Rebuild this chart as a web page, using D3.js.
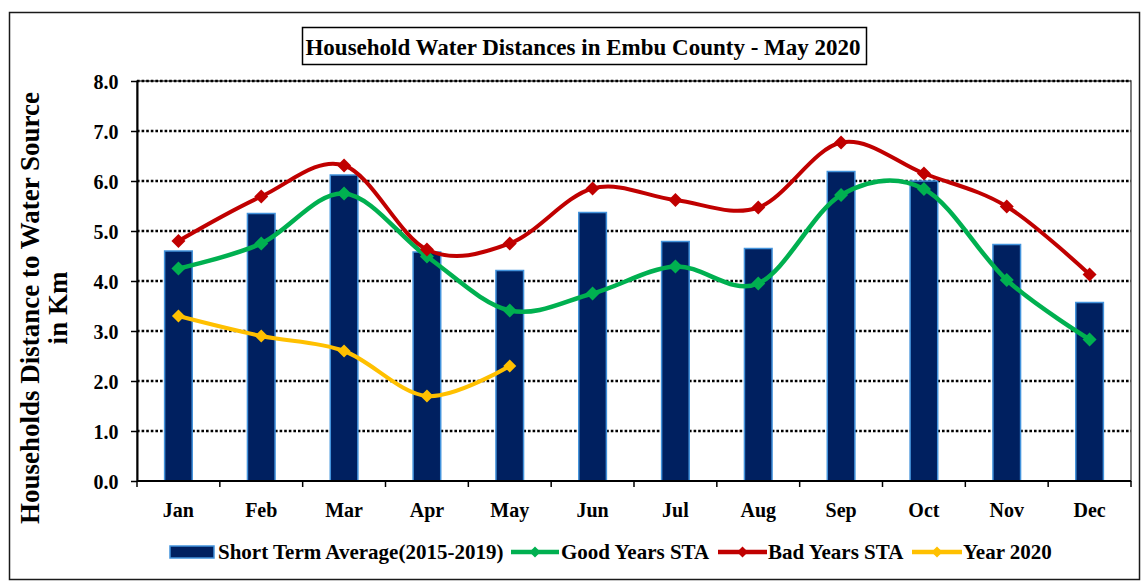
<!DOCTYPE html>
<html>
<head>
<meta charset="utf-8">
<script src="https://cdn.jsdelivr.net/npm/d3@7"></script>
<style>
  html, body { margin: 0; padding: 0; background: #fff; }
  svg { display: block; }
  text { font-family: "Liberation Serif", "Times New Roman", serif; font-weight: bold; fill: #000; }
</style>
</head>
<body>
<svg id="chart" width="1144" height="581"></svg>
<script>
// Monthly household water distances (km), Embu County
const months = ["Jan", "Feb", "Mar", "Apr", "May", "Jun", "Jul", "Aug", "Sep", "Oct", "Nov", "Dec"];
const shortTermAverage = [4.60, 5.35, 6.12, 4.58, 4.21, 5.37, 4.79, 4.65, 6.19, 6.00, 4.73, 3.57];
const goodYearsSTA = [4.25, 4.75, 5.75, 4.49, 3.41, 3.75, 4.29, 3.95, 5.72, 5.84, 4.02, 2.83];
const badYearsSTA = [4.80, 5.69, 6.31, 4.63, 4.75, 5.85, 5.62, 5.47, 6.77, 6.15, 5.49, 4.13];
const year2020 = [3.3, 2.9, 2.6, 1.7, 2.3];
const yTicks = [0, 1, 2, 3, 4, 5, 6, 7, 8];

const titleText = "Household Water Distances in Embu County - May 2020";
const yLabelLines = ["Households Distance to Water Source", "in Km"];
const legendLabels = ["Short Term Average(2015-2019)", "Good Years STA", "Bad Years STA", "Year 2020"];

const colors = {
  bar: "#002060",
  barEdge: "#4393dc",
  good: "#00B050",
  bad: "#C00000",
  y2020: "#FFC000"
};

const svg = d3.select("#chart");
const plot = { left: 137, right: 1131, top: 81, bottom: 481 };

const x = d3.scaleBand().domain(months).range([plot.left, plot.right]).padding(0);
const y = d3.scaleLinear().domain([0, 8]).range([plot.bottom, plot.top]);
const cx = m => x(m) + x.bandwidth() / 2;

// Outer frame
svg.append("rect")
  .attr("x", 9.5).attr("y", 12.5).attr("width", 1130).attr("height", 567)
  .attr("fill", "none").attr("stroke", "#1a1a1a").attr("stroke-width", 1.5);

// Plot area border
svg.append("rect")
  .attr("x", plot.left).attr("y", plot.top)
  .attr("width", plot.right - plot.left).attr("height", plot.bottom - plot.top)
  .attr("fill", "none").attr("stroke", "#555").attr("stroke-width", 1.5);

// Dotted horizontal gridlines
svg.append("g")
  .selectAll("line")
  .data(yTicks.filter(d => d > 0))
  .join("line")
  .attr("x1", plot.left).attr("x2", plot.right)
  .attr("y1", d => y(d)).attr("y2", d => y(d))
  .attr("stroke", "#000").attr("stroke-width", 2.6)
  .attr("stroke-dasharray", "2.6,2");

// Y axis
const yAxis = svg.append("g")
  .attr("transform", `translate(${plot.left},0)`)
  .call(d3.axisLeft(y).tickValues(yTicks).tickFormat(d3.format(".1f")).tickSize(6).tickSizeOuter(0));
yAxis.select(".domain").attr("stroke", "#000").attr("stroke-width", 2);
yAxis.selectAll(".tick line").attr("stroke", "#000").attr("stroke-width", 1.5);
yAxis.selectAll(".tick text")
  .attr("x", -18.5).attr("dy", "0.36em")
  .style("font-size", "20px")
  .style("font-family", "'Liberation Serif', 'Times New Roman', serif")
  .style("font-weight", "bold").attr("fill", "#000");

// Bars: short term average
svg.append("g")
  .selectAll("rect")
  .data(months.map((m, i) => ({ m, v: shortTermAverage[i] })))
  .join("rect")
  .attr("x", d => cx(d.m) - x.bandwidth() / 6)
  .attr("width", x.bandwidth() / 3)
  .attr("y", d => y(d.v))
  .attr("height", d => y(0) - y(d.v))
  .attr("fill", colors.bar)
  .attr("stroke", colors.barEdge)
  .attr("stroke-width", 1.5);

// X axis (tick marks at category boundaries)
const boundaries = months.map(m => x(m)).concat([plot.right]);
svg.append("line")
  .attr("x1", plot.left).attr("x2", plot.right)
  .attr("y1", plot.bottom).attr("y2", plot.bottom)
  .attr("stroke", "#000").attr("stroke-width", 2);
svg.append("g")
  .selectAll("line")
  .data(boundaries)
  .join("line")
  .attr("x1", d => d).attr("x2", d => d)
  .attr("y1", plot.bottom).attr("y2", plot.bottom + 6)
  .attr("stroke", "#000").attr("stroke-width", 1.5);
svg.append("g")
  .selectAll("text")
  .data(months)
  .join("text")
  .attr("x", d => cx(d))
  .attr("y", 516.5)
  .attr("text-anchor", "middle")
  .style("font-size", "20px")
  .text(d => d);

// Smoothed line series with diamond markers
const diamond = (px, py, r) => `M${px},${py - r}L${px + r},${py}L${px},${py + r}L${px - r},${py}Z`;
const lineGen = d3.line()
  .x(d => cx(d.m))
  .y(d => y(d.v))
  .curve(d3.curveCardinal.tension(0));

function drawSeries(values, color, width, r) {
  const pts = values.map((v, i) => ({ m: months[i], v }));
  const g = svg.append("g");
  g.append("path")
    .attr("d", lineGen(pts))
    .attr("fill", "none")
    .attr("stroke", color)
    .attr("stroke-width", width)
    .attr("stroke-linejoin", "round");
  g.selectAll("path.mk")
    .data(pts)
    .join("path")
    .attr("class", "mk")
    .attr("d", d => diamond(cx(d.m), y(d.v), r))
    .attr("fill", color);
}
drawSeries(goodYearsSTA, colors.good, 4.5, 7);
drawSeries(badYearsSTA, colors.bad, 4, 7);
drawSeries(year2020, colors.y2020, 4, 6.5);

// Title box
svg.append("rect")
  .attr("x", 302.5).attr("y", 27.5).attr("width", 564).attr("height", 37)
  .attr("fill", "#fff").attr("stroke", "#000").attr("stroke-width", 1.5);
svg.append("text")
  .attr("x", 583).attr("y", 54.5)
  .attr("text-anchor", "middle")
  .style("font-size", "23px")
  .text(titleText);

// Y axis title (two lines, rotated)
const yl = svg.append("text")
  .attr("transform", "translate(39,308) rotate(-90)")
  .attr("text-anchor", "middle")
  .style("font-size", "27px");
yl.append("tspan").attr("x", 0).attr("y", 0).text(yLabelLines[0]);
yl.append("tspan").attr("x", 0).attr("y", 28).text(yLabelLines[1]);

// Legend
const legendY = 552;
const legend = svg.append("g");
legend.append("rect")
  .attr("x", 170).attr("y", legendY - 6).attr("width", 44).attr("height", 12)
  .attr("fill", colors.bar).attr("stroke", colors.barEdge).attr("stroke-width", 1.5);
const legendItems = [
  { label: legendLabels[0], textX: 218 },
  { label: legendLabels[1], x0: 511, x1: 559, color: colors.good, textX: 561 },
  { label: legendLabels[2], x0: 718, x1: 767, color: colors.bad, textX: 768 },
  { label: legendLabels[3], x0: 912, x1: 962, color: colors.y2020, textX: 963 }
];
legendItems.forEach(it => {
  if (it.color) {
    legend.append("line")
      .attr("x1", it.x0).attr("x2", it.x1)
      .attr("y1", legendY).attr("y2", legendY)
      .attr("stroke", it.color).attr("stroke-width", 4.5);
    legend.append("path")
      .attr("d", diamond((it.x0 + it.x1) / 2, legendY, 5.5))
      .attr("fill", it.color);
  }
  legend.append("text")
    .attr("x", it.textX).attr("y", legendY + 7)
    .style("font-size", "21px")
    .text(it.label);
});
</script>
</body>
</html>
